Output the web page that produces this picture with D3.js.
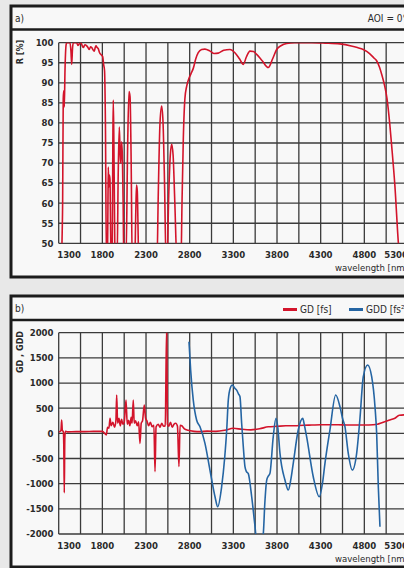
<!DOCTYPE html>
<html>
<head>
<meta charset="utf-8">
<script src="https://cdnjs.cloudflare.com/ajax/libs/d3/7.8.5/d3.min.js"></script>
<style>
  html, body { margin: 0; padding: 0; overflow: hidden; background: #e8e8e8; }
  svg { display: block; }
  text { font-family: "DejaVu Sans Condensed", "Liberation Sans Narrow", "DejaVu Sans", sans-serif; fill: #2a2a2a; }
</style>
</head>
<body>
<script>
// ---------- DATA ----------
const wavelengthTicks = [1300, 1800, 2300, 2800, 3300, 3800, 4300, 4800, 5300];
const rTicks = [50, 55, 60, 65, 70, 75, 80, 85, 90, 95, 100];
const gdTicks = [-2000, -1500, -1000, -500, 0, 500, 1000, 1500, 2000];

// Panel a: reflectance R [%]
const reflWavelength = [1330,1345,1352,1358,1364,1372,1385,1392,1410,1429,1440,1449,1458,1467,1490,1506,1520,1532,1545,1555,1570,1582,1600,1621,1635,1650,1665,1678,1695,1708,1718,1727,1740,1753,1768,1781,1795,1804,1815,1825,1835,1847,
  1858,1864,1868,1874,1880,1887,1895,1900,
  1912,1920,1925,1932,1940,1946,
  1968,1982,1994,2004,2010,2021,2030,2038,2046,
  2070,2090,2105,2117,2130,2142,
  2170,2183,2191,2200,2210,2216,
  2425,2440,2460,2479,2495,2512,2530,
  2540,2560,2578,2594,2610,2630,2655,
  2700,2712,2727,2745,2766,2790,2815,2841,2870,2898,2937,2975,3033,3080,3127,3190,3261,3318,3370,3414,3450,3490,3530,3567,3630,3700,3750,3796,3850,3911,4000,4063,4200,4350,4521,4650,4720,4788,4860,4910,4941,4975,5000,5030,5060,5090,5113,5150,5190,5210];
const reflectance = [45,60,86,88,84,93,99.5,100,100,100,98,94.6,98.5,100,100,100,99.3,99.6,100,100,99.2,98.8,99.5,99.2,98.8,98.3,99,98.8,98.2,97.9,98.8,99.2,98.8,98.5,97.5,97.1,96.8,96.5,94.5,93,80,45,
  45,60,69,64,67,66,52,45,
  45,75,85.7,75,55,45,
  45,68,79,72,70,75.3,71,60,45,
  45,75,87.8,86.5,70,45,
  45,58,64.5,63,52,45,
  45,62,80,84.2,80,65,45,
  45,62,72,74.7,72,60,45,
  45,60,76,86,89.2,91,92.3,93.6,96,97.5,98.3,98.4,97.9,97.3,97.4,98.1,98.3,97.5,96,94.6,96.5,97.9,97.8,97.1,95.5,93.8,96,98.3,99.3,99.8,100,100,100,99.9,99.7,99.2,98.8,98.3,97.3,96.2,95.5,93.8,92,89.5,86,80,74.3,64.3,50,45];

// Panel b: group delay GD [fs]
const gdWavelength = [1300,1318,1326,1334,1342,1352,1358,1364,1370,1376,1400,1500,1600,1700,1800,1845,1860,1875,1888,1900,1920,1940,1955,1964,1975,1990,2005,2020,2035,2050,2071,2085,2100,2115,2130,2140,2154,2165,2180,2200,2215,2231,2245,2260,2280,2295,2310,2330,2350,2370,2390,2403,2415,2440,2460,2480,2500,2520,2536,2545,2560,2580,2600,2620,2640,2660,2677,2690,2710,2740,2780,2850,2920,3000,3100,3200,3300,3400,3500,3600,3700,3800,3900,4000,4100,4200,4300,4400,4500,4600,4700,4800,4900,4950,5000,5050,5100,5150,5200,5300];
const gdValues = [30,40,60,265,50,40,-200,-1180,-100,40,30,35,35,40,40,-30,120,100,300,150,220,120,250,760,200,300,150,280,180,220,660,180,260,150,320,200,660,200,250,150,230,-200,200,250,560,300,250,150,220,130,160,-760,130,180,120,200,140,150,2100,180,140,220,120,180,200,140,-660,160,150,90,60,40,35,45,40,60,100,80,70,90,130,140,150,150,160,165,170,170,170,165,165,165,170,180,210,240,270,300,360,370];

// Panel b: group delay dispersion GDD [fs²]
const gddWavelength = [2792,2811,2841,2880,2918,2975,3032,3090,3121,3166,3200,3224,3242,3265,3288,3315,3338,3360,3376,3395,3414,3433,3450,3471,3510,3545,3575,3610,3643,3660,3682,3700,3719,3757,3788,3810,3834,3891,3929,3960,3986,4043,4094,4115,4139,4215,4284,4320,4349,4406,4472,4521,4550,4578,4616,4662,4712,4750,4788,4838,4884,4922,4941,4960,4979];
const gddValues = [1820,1260,660,260,130,-200,-730,-1260,-1458,-1060,-500,66,660,900,960,900,860,780,727,200,-266,-663,-760,-800,-1260,-1800,-2250,-2250,-1990,-1400,-928,-850,-795,-66,298,100,-397,-928,-1126,-900,-596,66,298,150,-66,-862,-1260,-1000,-596,66,761,529,300,132,-397,-729,-397,300,1125,1357,1125,529,0,-1060,-1855];

// ---------- DRAWING ----------
const RED = "#d3142b", BLUE = "#2565a3";
const W = 420, H = 568;
const svg = d3.select("body").append("svg").attr("width", W).attr("height", H);

const x = d3.scaleLinear().domain([1300, 5300]).range([58.7, 408]);
const gridX = d3.range(1300, 5301, 250);

function panel(cfg) {
  const g = svg.append("g");
  // box
  g.append("rect").attr("x", 11).attr("y", cfg.boxTop).attr("width", 406).attr("height", cfg.boxBottom - cfg.boxTop)
    .attr("fill", "#f8f8f8").attr("stroke", "#1c1c1c").attr("stroke-width", 3);
  g.append("line").attr("x1", 11).attr("x2", 417).attr("y1", cfg.sepY).attr("y2", cfg.sepY)
    .attr("stroke", "#1c1c1c").attr("stroke-width", 2.5);
  g.append("text").attr("x", 15).attr("y", cfg.boxTop + 16).attr("font-size", 10).text(cfg.title);

  const y = d3.scaleLinear().domain(cfg.yDomain).range([cfg.plotBottom, cfg.plotTop]);

  // grid
  g.append("g").selectAll("line").data(gridX).join("line")
    .attr("x1", d => x(d)).attr("x2", d => x(d)).attr("y1", cfg.plotTop).attr("y2", cfg.plotBottom)
    .attr("stroke", "#3b3b3b").attr("stroke-width", 1.3);
  g.append("g").selectAll("line").data(cfg.yTicks).join("line")
    .attr("x1", x.range()[0]).attr("x2", x.range()[1]).attr("y1", d => y(d)).attr("y2", d => y(d))
    .attr("stroke", "#3b3b3b").attr("stroke-width", 1.3);

  // y tick labels
  g.append("g").selectAll("text").data(cfg.yTicks).join("text")
    .attr("x", 53.5).attr("y", d => y(d)).attr("dy", "0.35em").attr("text-anchor", "end")
    .attr("font-size", 9.5).attr("font-weight", "bold").text(d => d);
  // x tick labels
  const n = wavelengthTicks.length;
  g.append("g").selectAll("text").data(wavelengthTicks).join("text")
    .attr("x", (d, i) => i === 0 ? x(d) - 1.5 : (i === n - 1 ? x(d) : x(d)))
    .attr("y", cfg.plotBottom + 15)
    .attr("text-anchor", (d, i) => i === 0 ? "start" : (i === n - 1 ? "end" : "middle"))
    .attr("font-size", 9.5).attr("font-weight", "bold").text(d => d);
  // x title
  g.append("text").attr("x", 408).attr("y", cfg.plotBottom + 27.5).attr("text-anchor", "end")
    .attr("font-size", 9.5).text("wavelength [nm]");
  // y title
  g.append("text").attr("transform", `translate(23,${cfg.yTitleY}) rotate(-90)`).attr("text-anchor", "middle")
    .attr("font-size", 9).attr("font-weight", "bold").text(cfg.yTitle);

  // clip
  const cid = "clip" + cfg.title.replace(/\W/g, "");
  svg.append("defs").append("clipPath").attr("id", cid).append("rect")
    .attr("x", x.range()[0]).attr("y", cfg.plotTop).attr("width", x.range()[1] - x.range()[0]).attr("height", cfg.plotBottom - cfg.plotTop);

  const line = d3.line().x(d => x(d[0])).y(d => y(d[1])).curve(d3.curveMonotoneX);
  cfg.series.forEach(s => {
    const pts = s.xs.map((v, i) => [v, s.ys[i]]);
    g.append("path").attr("d", line(pts)).attr("fill", "none").attr("stroke", s.color)
      .attr("stroke-width", 1.6).attr("stroke-linejoin", "round").attr("clip-path", `url(#${cid})`);
  });
  return g;
}

const ga = panel({
  title: "a)", boxTop: 6, boxBottom: 277, sepY: 29.5, plotTop: 42.7, plotBottom: 243.3,
  yDomain: [50, 100], yTicks: rTicks, yTitle: "R [%]", yTitleY: 52,
  series: [{ xs: reflWavelength, ys: reflectance, color: RED }]
});
ga.append("text").attr("x", 407).attr("y", 22).attr("text-anchor", "end").attr("font-size", 10).text("AOI = 0°");

const gb = panel({
  title: "b)", boxTop: 296, boxBottom: 567, sepY: 320, plotTop: 332.7, plotBottom: 534,
  yDomain: [-2000, 2000], yTicks: gdTicks, yTitle: "GD , GDD", yTitleY: 352,
  series: [{ xs: gdWavelength, ys: gdValues, color: RED }, { xs: gddWavelength, ys: gddValues, color: BLUE }]
});
// legend
const legend = [{ label: "GD [fs]", color: RED, x: 283 }, { label: "GDD [fs²]", color: BLUE, x: 349 }];
legend.forEach(l => {
  gb.append("line").attr("x1", l.x).attr("x2", l.x + 14).attr("y1", 309.5).attr("y2", 309.5)
    .attr("stroke", l.color).attr("stroke-width", 3);
  gb.append("text").attr("x", l.x + 17).attr("y", 313).attr("font-size", 10).text(l.label);
});
</script>
</body>
</html>
